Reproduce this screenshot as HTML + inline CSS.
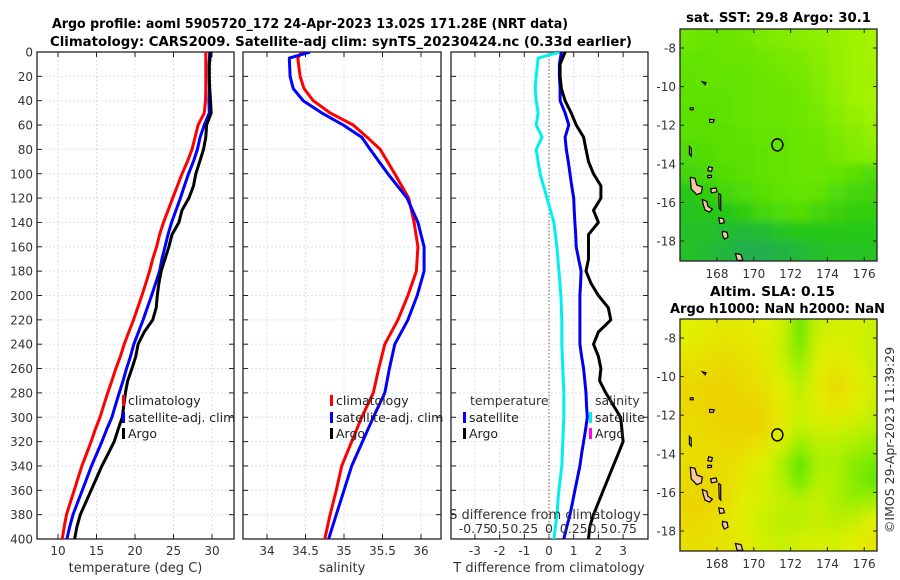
<!DOCTYPE html>
<html><head><meta charset="utf-8">
<style>
html,body{margin:0;padding:0;background:#fff;}
svg{display:block;font-family:"DejaVu Sans","Liberation Sans",sans-serif;}
</style></head>
<body>
<svg id="chart" width="900" height="580" viewBox="0 0 900 580" xmlns="http://www.w3.org/2000/svg">
<defs>
<clipPath id="cp1"><rect x="37" y="52" width="197" height="487"/></clipPath>
<clipPath id="cp2"><rect x="243" y="52" width="198" height="487"/></clipPath>
<clipPath id="cp3"><rect x="451" y="52" width="197" height="487"/></clipPath>
<clipPath id="cm1"><rect x="680" y="29" width="197" height="232"/></clipPath>
<clipPath id="cm2"><rect x="680" y="319" width="197" height="232"/></clipPath>
<filter id="blur1" x="-5%" y="-5%" width="110%" height="110%"><feGaussianBlur stdDeviation="4"/></filter>
<filter id="blur2" x="-5%" y="-5%" width="110%" height="110%"><feGaussianBlur stdDeviation="7"/></filter>
</defs>
<text x="52" y="28" font-size="13" font-weight="bold" textLength="516" lengthAdjust="spacingAndGlyphs">Argo profile: aoml 5905720_172 24-Apr-2023 13.02S 171.28E (NRT data)</text>
<text x="50" y="46" font-size="13" font-weight="bold" textLength="582" lengthAdjust="spacingAndGlyphs">Climatology: CARS2009. Satellite-adj clim: synTS_20230424.nc (0.33d earlier)</text>
<text x="686" y="22" font-size="13" font-weight="bold" textLength="185" lengthAdjust="spacingAndGlyphs">sat. SST: 29.8 Argo: 30.1</text>
<text x="710" y="296" font-size="13" font-weight="bold" textLength="125" lengthAdjust="spacingAndGlyphs">Altim. SLA: 0.15</text>
<text x="670" y="313" font-size="13" font-weight="bold" textLength="215" lengthAdjust="spacingAndGlyphs">Argo h1000: NaN h2000: NaN</text>
<text x="0" y="0" font-size="12.5" fill="#333" text-anchor="middle" transform="translate(894,440) rotate(-90)">©IMOS 29-Apr-2023 11:39:29</text>
<g id="plots"></g>
</svg>
<script>
// ---------- data ----------
const depthGrid = [0,10,20,30,40,50,60,70,80,90,100,110,120,130,140,150,160,170,180,190,200,210,220,230,240,250,260,270,280,290,300,310,320,330,340,350,360,370,380,390,400];
const tempClim = [29.2,29.2,29.2,29.2,29.15,29.0,28.2,27.8,27.4,26.8,26.1,25.5,24.9,24.3,23.7,23.2,22.8,22.3,21.9,21.4,20.9,20.35,19.8,19.2,18.6,18.1,17.5,17.0,16.45,15.95,15.45,14.85,14.3,13.7,13.1,12.6,12.1,11.6,11.1,10.8,10.55];
const tempDiffSat = [0.5,0.42,0.42,0.45,0.45,0.65,0.8,0.65,0.7,0.78,0.85,0.92,1.0,1.02,1.05,1.08,1.1,1.2,1.3,1.28,1.25,1.25,1.25,1.25,1.25,1.32,1.4,1.45,1.5,1.52,1.55,1.48,1.4,1.32,1.25,1.15,1.05,0.95,0.85,0.72,0.6];
const tempDiffArgo = [0.65,0.45,0.45,0.5,0.65,0.9,1.1,1.4,1.5,1.6,1.8,2.1,2.1,1.8,2.0,1.6,1.6,1.6,1.5,1.7,2.0,2.4,2.5,2.0,1.8,2.0,2.1,2.05,2.3,2.6,2.9,2.95,3.0,2.8,2.6,2.4,2.2,2.0,1.8,1.65,1.6];
const salDepth = [0,5,20,30,40,50,60,70,80,100,120,140,160,180,200,220,240,260,280,300,320,340,360,380,400];
const salClim = [34.45,34.40,34.43,34.48,34.6,34.82,35.12,35.3,35.47,35.66,35.84,35.91,35.96,35.94,35.83,35.7,35.53,35.45,35.38,35.23,35.1,34.97,34.9,34.82,34.75];
const salSat  = [34.56,34.29,34.3,34.34,34.47,34.71,34.99,35.23,35.34,35.57,35.82,35.96,36.04,36.04,35.95,35.83,35.66,35.59,35.53,35.38,35.24,35.1,35.0,34.9,34.8];
const depthTicks = [0,20,40,60,80,100,120,140,160,180,200,220,240,260,280,300,320,340,360,380,400];
const tempTicks = [10,15,20,25,30];
const salTicks = [34,34.5,35,35.5,36];
const salTickLabels = ["34","34.5","35","35.5","36"];
const tdiffTicks = [-3,-2,-1,0,1,2,3];
const sdiffTicks = [-0.75,-0.5,-0.25,0,0.25,0.5,0.75];
const sdiffTickLabels = ["-0.75","0.5","0.25","0","0.25","0.5","0.75"];
const lonTicks = [168,170,172,174,176];
const latTicks = [-8,-10,-12,-14,-16,-18];
const sstGrid = [
[0.65,0.62,0.62,0.65,0.7,0.72,0.75,0.78,0.82,0.85,0.88],
[0.6,0.6,0.62,0.62,0.65,0.68,0.7,0.75,0.8,0.85,0.88],
[0.58,0.6,0.6,0.6,0.62,0.65,0.68,0.72,0.8,0.85,0.85],
[0.58,0.58,0.58,0.6,0.62,0.62,0.65,0.7,0.78,0.85,0.88],
[0.55,0.55,0.58,0.6,0.62,0.62,0.65,0.68,0.75,0.8,0.85],
[0.55,0.55,0.55,0.58,0.6,0.6,0.62,0.65,0.7,0.75,0.8],
[0.5,0.52,0.55,0.55,0.58,0.6,0.62,0.62,0.68,0.72,0.75],
[0.45,0.48,0.52,0.55,0.58,0.6,0.62,0.62,0.6,0.55,0.5],
[0.3,0.35,0.45,0.5,0.55,0.58,0.6,0.58,0.5,0.45,0.42],
[0.25,0.28,0.3,0.35,0.45,0.5,0.52,0.45,0.4,0.35,0.35],
[0.22,0.2,0.18,0.15,0.18,0.25,0.3,0.3,0.3,0.3,0.3],
[0.2,0.18,0.12,0.05,0.05,0.1,0.15,0.2,0.25,0.25,0.25]];
const slaGrid = [
[0.55,0.6,0.62,0.6,0.55,0.5,0.15,0.45,0.5,0.5,0.45],
[0.6,0.65,0.68,0.65,0.6,0.45,0.2,0.5,0.55,0.5,0.45],
[0.7,0.72,0.75,0.7,0.65,0.5,0.3,0.55,0.65,0.55,0.45],
[0.75,0.78,0.8,0.72,0.68,0.55,0.4,0.6,0.75,0.6,0.5],
[0.75,0.78,0.8,0.78,0.75,0.6,0.45,0.55,0.65,0.55,0.45],
[0.72,0.75,0.78,0.8,0.78,0.6,0.45,0.5,0.5,0.45,0.4],
[0.7,0.72,0.75,0.72,0.65,0.5,0.3,0.4,0.4,0.35,0.3],
[0.7,0.72,0.7,0.65,0.55,0.35,0.1,0.35,0.35,0.25,0.2],
[0.75,0.78,0.72,0.6,0.5,0.4,0.2,0.4,0.35,0.25,0.15],
[0.78,0.8,0.7,0.55,0.5,0.45,0.4,0.45,0.35,0.3,0.35],
[0.75,0.72,0.65,0.55,0.45,0.4,0.4,0.45,0.4,0.45,0.55],
[0.7,0.68,0.65,0.6,0.5,0.45,0.5,0.5,0.5,0.55,0.65]];
const gridLon0 = 166, gridLat0 = -7;
const argoLon = 171.28, argoLat = -13.02;
const islands = [
[[166.55,-14.7],[166.8,-14.75],[166.9,-15.1],[167.2,-15.2],[167.15,-15.5],[166.9,-15.6],[166.6,-15.3]],
[[167.2,-15.85],[167.45,-15.95],[167.5,-16.2],[167.75,-16.35],[167.6,-16.5],[167.35,-16.4],[167.25,-16.1]],
[[168.3,-17.5],[168.55,-17.55],[168.6,-17.8],[168.4,-17.9],[168.3,-17.7]],
[[169.0,-18.65],[169.3,-18.7],[169.4,-19.0],[169.1,-19.0]],
[[168.1,-15.55],[168.2,-15.6],[168.2,-16.4],[168.12,-16.3]],
[[167.65,-15.3],[167.95,-15.25],[168.0,-15.45],[167.7,-15.5]],
[[168.1,-16.8],[168.35,-16.85],[168.4,-17.05],[168.15,-17.1]],
[[167.55,-14.15],[167.75,-14.2],[167.7,-14.4],[167.5,-14.35]],
[[167.5,-14.6],[167.7,-14.6],[167.7,-14.7],[167.5,-14.72]],
[[167.6,-11.7],[167.85,-11.72],[167.8,-11.85],[167.6,-11.85]],
[[166.55,-11.1],[166.7,-11.1],[166.7,-11.2],[166.55,-11.2]],
[[167.2,-9.75],[167.4,-9.8],[167.35,-9.9]],
[[166.5,-13.1],[166.6,-13.2],[166.6,-13.6],[166.5,-13.5]]
];
// ---------- helpers ----------
const NS='http://www.w3.org/2000/svg';
const root=document.getElementById('plots');
function mk(tag,attrs,parent){const e=document.createElementNS(NS,tag);for(const k in attrs)e.setAttribute(k,attrs[k]);(parent||root).appendChild(e);return e;}
const Y0=52,Y1=539;
const yD=d=>Y0+(d/400)*(Y1-Y0);
const xT=t=>58+(t-10)*7.7;
const xS=s=>267+(s-34)*77;
const xDT=v=>549+v*24.7;
const xDS=v=>549+v*4*24.7;
const GRID='#dde0f2';

function panelFrame(x0,x1,name,xTicks,xFn,labels,showY){
  const g=mk('g',{});
  
  
  xTicks.forEach((t,i)=>{
    const x=xFn(t);
    const l=mk('line',{x1:x,x2:x,y1:Y0,y2:Y1,stroke:GRID,'stroke-width':1,'stroke-dasharray':'2,2'},g);
    
    mk('line',{x1:x,x2:x,y1:Y1,y2:Y1-5,stroke:'#222'},g);
    mk('line',{x1:x,x2:x,y1:Y0,y2:Y0+5,stroke:'#222'},g);
    if(labels){const tx=mk('text',{x:x,y:Y1+16,'font-size':12,fill:'#333','text-anchor':'middle'},g);tx.textContent=labels[i];
      }
  });
  depthTicks.forEach(d=>{
    const y=yD(d);
    if(d>0&&d<400){const l=mk('line',{x1:x0,x2:x1,y1:y,y2:y,stroke:GRID,'stroke-width':1,'stroke-dasharray':'2,2'},g);
      }
    mk('line',{x1:x0,x2:x0+5,y1:y,y2:y,stroke:'#222'},g);
    mk('line',{x1:x1,x2:x1-5,y1:y,y2:y,stroke:'#222'},g);
    if(showY){const tx=mk('text',{x:x0-4,y:y+4.5,'font-size':12,fill:'#333','text-anchor':'end'},g);tx.textContent=d;
      }
  });
  mk('rect',{x:x0,y:Y0,width:x1-x0,height:Y1-Y0,fill:'none',stroke:'#222','stroke-width':1.3},g);
  return g;
}
function poly(xs,ds,xFn,color,clip,name,w){
  const pts=xs.map((v,i)=>xFn(v).toFixed(1)+','+yD(ds[i]).toFixed(1)).join(' ');
  const p=mk('polyline',{points:pts,fill:'none',stroke:color,'stroke-width':w||3,'stroke-linejoin':'round','clip-path':'url(#'+clip+')'});
  
  
  return p;
}
function legendItem(x,y,color,label,name){
  const g=mk('g',{});
  
  
  mk('rect',{x:x,y:y-10,width:3,height:11,fill:color},g);
  if(label){const t=mk('text',{x:x+6,y:y,'font-size':12.5,fill:'#222'},g);t.textContent=label;}
}
function txt(x,y,s,name,anchor,size){
  const t=mk('text',{x:x,y:y,'font-size':size||12.5,fill:'#333','text-anchor':anchor||'start'});
  t.textContent=s;
  
  
  return t;
}
// ---------- panel 1: temperature ----------
panelFrame(37,234,'temperature-panel',tempTicks,xT,tempTicks.map(String),true);
poly(tempClim,depthGrid,xT,'#ff0000','cp1','temp-climatology-line');
poly(tempClim.map((v,i)=>v+tempDiffSat[i]),depthGrid,xT,'#0000ff','cp1','temp-satellite-line');
poly(tempClim.map((v,i)=>v+tempDiffArgo[i]),depthGrid,xT,'#000000','cp1','temp-argo-line');
txt(135.5,572,'temperature (deg C)','temperature-axis-title','middle',13);
legendItem(122,405,'#ff0000','climatology','legend-climatology');
legendItem(122,422,'#0000ff','satellite-adj. clim','legend-satellite-adj');
legendItem(122,438,'#000000','Argo','legend-argo');
// ---------- panel 2: salinity ----------
panelFrame(243,441,'salinity-panel',salTicks,xS,salTickLabels,false);
poly(salClim,salDepth,xS,'#ff0000','cp2','sal-climatology-line');
poly(salSat,salDepth,xS,'#0000ff','cp2','sal-satellite-line');
txt(342,572,'salinity','salinity-axis-title','middle',13);
legendItem(330,405,'#ff0000','climatology','legend-sal-climatology');
legendItem(330,422,'#0000ff','satellite-adj. clim','legend-sal-satellite-adj');
legendItem(330,438,'#000000','Argo','legend-sal-argo');
// ---------- panel 3: differences ----------
panelFrame(451,648,'difference-panel',tdiffTicks,xDT,tdiffTicks.map(String),false);
mk('line',{x1:xDT(0),x2:xDT(0),y1:Y0,y2:Y1,stroke:'#6b6b3a','stroke-width':1,'stroke-dasharray':'1.5,2'});
poly(salSat.map((v,i)=>v-salClim[i]),salDepth,xDS,'#00f0f0','cp3','sal-diff-satellite-line');
poly(tempDiffSat,depthGrid,xDT,'#0000ee','cp3','temp-diff-satellite-line');
poly(tempDiffArgo,depthGrid,xDT,'#000000','cp3','temp-diff-argo-line');
txt(470,405,'temperature','legend-temperature-heading','start',12.5);
txt(595,405,'salinity','legend-salinity-heading','start',12.5);
legendItem(463,422,'#0000ff','satellite','legend-tdiff-satellite');
legendItem(463,438,'#000000','Argo','legend-tdiff-argo');
legendItem(589,422,'#00f0f0','satellite','legend-sdiff-satellite');
legendItem(589,438,'#ff00ff','Argo','legend-sdiff-argo');
txt(545,519,'S difference from climatology','s-diff-axis-title','middle',13);
sdiffTicks.forEach((v,i)=>{txt(xDS(v),533,sdiffTickLabels[i],'s-diff-tick-label','middle',12.5);});
txt(549,572,'T difference from climatology','t-diff-axis-title','middle',13);
// ---------- maps ----------
const MX0=680,MX1=877,LONPX=18.4;
const lonX=l=>717+(l-168)*LONPX;
function sstColor(v){
  const stops=[[0,[30,170,90]],[0.3,[40,200,20]],[0.6,[100,228,0]],[1,[195,250,0]]];
  return interp(stops,v);}
function slaColor(v){
  const stops=[[0,[40,225,0]],[0.35,[170,240,0]],[0.55,[225,240,0]],[1,[245,185,0]]];
  return interp(stops,v);}
function interp(stops,v){
  for(let i=1;i<stops.length;i++){if(v<=stops[i][0]){const a=stops[i-1],b=stops[i];const f=(v-a[0])/(b[0]-a[0]);
    return 'rgb('+a[1].map((c,k)=>Math.round(c+(b[1][k]-c)*f)).join(',')+')';}}
  return 'rgb('+stops[stops.length-1][1].join(',')+')';}
function drawMap(grid,cfn,yTop,yBot,lat8y,lat18y,clip,blur,name){
  const latY=l=>lat8y+(-8-l)*(lat18y-lat8y)/10;
  const g=mk('g',{});
  
  
  const cg=mk('g',{'clip-path':'url(#'+clip+')'},g);
  mk('rect',{x:MX0,y:yTop,width:MX1-MX0,height:yBot-yTop,fill:cfn(grid[0][0])},cg);
  const hg=mk('g',{filter:'url(#'+blur+')'},cg);
  grid.forEach((row,r)=>row.forEach((v,c)=>{
    const x0=lonX(gridLon0+c),y0=latY(gridLat0-r);
    const cell=mk('rect',{x:x0-(c===0?12:0),y:y0-(r===0?12:0),width:LONPX+0.6+(c===0?12:0)+(c===row.length-1?12:0),height:(latY(-8)-latY(-7))+0.6+(r===0?12:0)+(r===grid.length-1?12:0),fill:cfn(v)},hg);
    
    
  }));
  islands.forEach(isl=>{
    const p=mk('polygon',{points:isl.map(q=>lonX(q[0]).toFixed(1)+','+latY(q[1]).toFixed(1)).join(' '),fill:'#f8c8a0',stroke:'#000','stroke-width':1.2},cg);
    
    
  });
  const c=mk('ellipse',{cx:lonX(argoLon),cy:latY(argoLat),rx:5.5,ry:6,fill:'none',stroke:'#000','stroke-width':1.5},cg);
  
  
  lonTicks.forEach(l=>{const x=lonX(l);
    mk('line',{x1:x,x2:x,y1:yBot,y2:yBot-4,stroke:'#222'},g);mk('line',{x1:x,x2:x,y1:yTop,y2:yTop+4,stroke:'#222'},g);
    const t=mk('text',{x:x,y:yBot+17,'font-size':12,fill:'#333','text-anchor':'middle'},g);t.textContent=l;
    });
  latTicks.forEach(l=>{const y=latY(l);
    mk('line',{x1:MX0,x2:MX0+4,y1:y,y2:y,stroke:'#222'},g);mk('line',{x1:MX1,x2:MX1-4,y1:y,y2:y,stroke:'#222'},g);
    const t=mk('text',{x:MX0-4,y:y+4.5,'font-size':12,fill:'#333','text-anchor':'end'},g);t.textContent=l;
    });
  mk('rect',{x:MX0,y:yTop,width:MX1-MX0,height:yBot-yTop,fill:'none',stroke:'#222','stroke-width':1.3},g);
}
drawMap(sstGrid,sstColor,29,261,48,241,'cm1','blur1','sst-map');
drawMap(slaGrid,slaColor,319,551,338,531,'cm2','blur2','sla-map');
</script>
</body></html>
